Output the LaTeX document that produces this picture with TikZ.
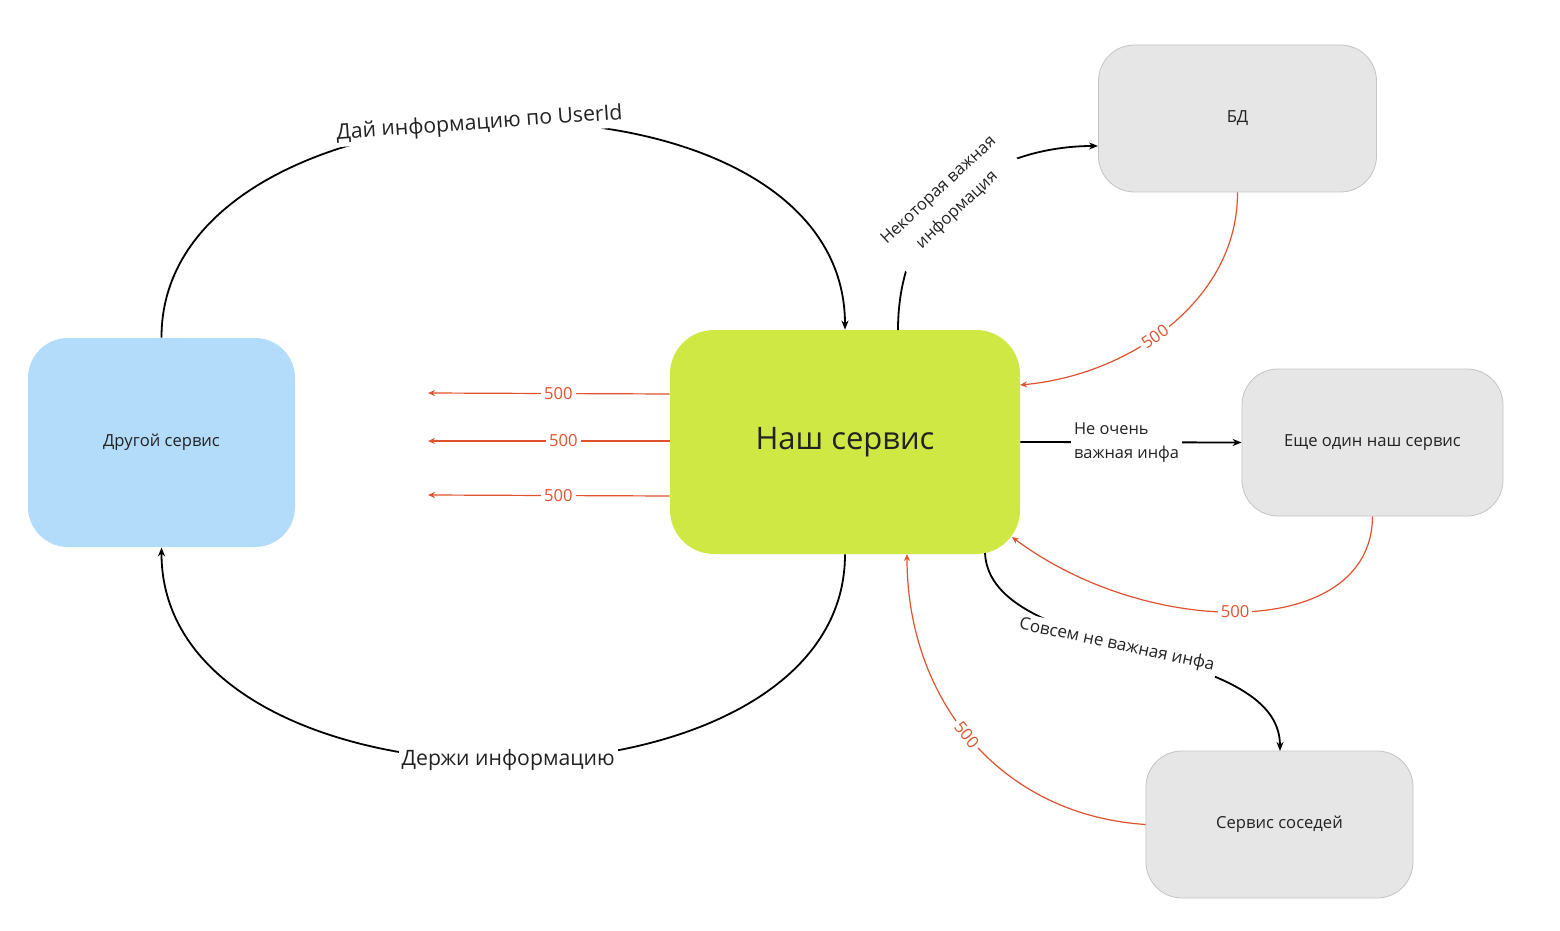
\documentclass[tikz,border=0pt]{standalone}
\usepackage{fontspec}
\setmainfont{Open Sans}
\usetikzlibrary{arrows.meta}
\definecolor{bluebox}{HTML}{B3DCFA}
\definecolor{greenbox}{HTML}{CFE843}
\definecolor{graybox}{HTML}{E6E6E6}
\definecolor{grayline}{HTML}{C4C4C4}
\definecolor{redline}{HTML}{E0522E}
\definecolor{txt}{HTML}{222222}
\tikzset{
  box/.style={rounded corners=18pt, inner sep=0pt, text=txt, font=\fontsize{8.3}{10}\selectfont},
  bluenode/.style={box, fill=bluebox, minimum width=133.5pt, minimum height=104.5pt, rounded corners=20pt},
  greennode/.style={box, fill=greenbox, minimum width=175pt, minimum height=112pt, rounded corners=22pt, font=\fontsize{15.5}{18}\selectfont},
  graynode/.style={box, fill=graybox, draw=grayline, line width=0.4pt, minimum width=139pt, minimum height=73.5pt},
  blk/.style={draw=black, line width=0.9pt, -{Stealth[length=4.5pt,width=3.5pt]}},
  red/.style={draw=redline, line width=0.6pt, -{Stealth[length=3.5pt,width=3pt]}},
  blab/.style={fill=white, text=txt, inner sep=1.5pt, font=\fontsize{10.6}{12}\selectfont},
  slab/.style={fill=white, text=txt, inner sep=1.5pt, font=\fontsize{8.2}{12}\selectfont, align=left},
  rlab/.style={fill=white, text=redline, inner sep=1.5pt, font=\fontsize{8.3}{10}\selectfont},
}
\begin{document}
\begin{tikzpicture}[x=0.5pt, y=-0.5pt]
\useasboundingbox[fill=white] (0,0) rectangle (1560,931);

\node[bluenode] (other) at (161.5,442.5) {Другой сервис};
\node[greennode] (our) at (845,442) {Наш сервис};
\node[graynode] (db) at (1237.5,118.5) {БД};
\node[graynode, minimum width=130.5pt] (one) at (1372.5,442.5) {Еще один наш сервис};
\node[graynode, minimum width=133.5pt] (nb) at (1279.5,824.5) {Сервис соседей};

% top: other -> our
\draw[blk] (other.north) .. controls (161,60) and (845,45) .. (our.north)
  node[blab, pos=0.477, rotate=4] {Дай информацию по UserId};
% bottom: our -> other
\draw[blk] (our.south) .. controls (845,830) and (161,830) .. (other.south)
  node[blab, pos=0.495] {Держи информацию};
% our -> db
\coordinate (ourA) at (898,330);
\coordinate (dbW) at (1098,146);
\draw[blk] (ourA) .. controls (898,200) and (1000,146) .. (dbW)
  node[slab, align=center, pos=0.44, rotate=43, inner sep=2pt, font=\fontsize{8.3}{13.5}\selectfont] {Некоторая важная\\информация};
% our -> one
\draw[blk] (our.east) -- (one.west)
  node[slab, pos=0.48, font=\fontsize{8.2}{12}\selectfont] {Не очень\\важная инфа};
% our -> neighbours
\coordinate (ourB) at (985,553);
\coordinate (nbN) at (1280,751);
\draw[blk] (ourB) .. controls (990,660) and (1280,640) .. (nbN)
  node[blab, pos=0.46, rotate=-12, font=\fontsize{8.5}{10}\selectfont] {Совсем не важная инфа};

% red returns
\coordinate (ourC) at (1020,385);
\draw[red] (db.south) .. controls (1238,300) and (1130,375) .. (ourC)
  node[rlab, pos=0.56, sloped] {500};
\coordinate (ourD) at (1012,537);
\draw[red] (one.south) .. controls (1372,640) and (1150,640) .. (ourD)
  node[rlab, pos=0.52] {500};
\coordinate (ourE) at (907,554);
\draw[red] (nb.west) .. controls (1000,815) and (907,700) .. (ourE)
  node[rlab, pos=0.52, sloped] {500};

\coordinate (l1) at (428,393);
\coordinate (l2) at (428,441);
\coordinate (l3) at (428,495);
\draw[red] (our.west |- 0,394) -- (l1) node[rlab, pos=0.46] {500};
\draw[red] (our.west |- 0,441) -- (l2) node[rlab, pos=0.44] {500};
\draw[red] (our.west |- 0,496) -- (l3) node[rlab, pos=0.46] {500};
\end{tikzpicture}
\end{document}
